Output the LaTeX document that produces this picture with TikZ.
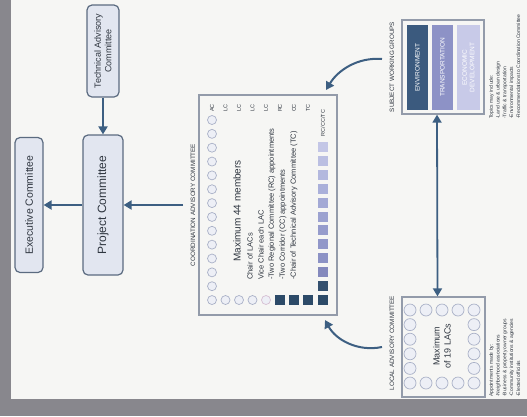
\documentclass[tikz,border=0pt]{standalone}
\usepackage{fontspec}
\setmainfont{Liberation Sans}
\usetikzlibrary{arrows.meta}
\definecolor{bgray}{HTML}{88878D}
\definecolor{paper}{HTML}{F6F6F4}
\definecolor{arrowc}{HTML}{3D5F82}
\definecolor{boxfill}{HTML}{E2E6F0}
\definecolor{boxline}{HTML}{5B6B80}
\definecolor{framec}{HTML}{939BAA}
\definecolor{ringc}{HTML}{AAB1C7}
\definecolor{ringfill}{HTML}{EDEFF6}
\definecolor{navy}{HTML}{2C4A68}
\definecolor{pinkish}{HTML}{D6BFD2}
\definecolor{bandA}{HTML}{3B5A7E}
\definecolor{bandB}{HTML}{8D92C6}
\definecolor{bandC}{HTML}{C8CAE8}
\definecolor{txt}{HTML}{2F3640}
\begin{document}
\begin{tikzpicture}[x=1pt,y=-1pt,
  cbox/.style={rounded corners=5pt, draw=boxline, line width=1.2pt, fill=boxfill, rotate=90, text=txt, align=center, inner sep=1pt},
  arr/.style={draw=arrowc, line width=2pt, -{Triangle[length=8pt,width=9pt]}},
  dblarr/.style={draw=arrowc, line width=1.8pt, {Triangle[length=8pt,width=9pt]}-{Triangle[length=8pt,width=9pt]}},
  rlabel/.style={rotate=90, text=txt, inner sep=0pt},
  mdot/.style={circle, draw=ringc, fill=ringfill, line width=0.7pt, minimum size=9pt, inner sep=0pt},
  bigdot/.style={mdot, minimum size=12pt},
  sq/.style={rectangle, minimum size=10pt, inner sep=0pt},
  band/.style={rectangle, rotate=90, minimum width=85pt, inner sep=0pt, text=white, font=\fontsize{6.5}{7.5}\selectfont, align=center},
  framebox/.style={draw=framec, line width=1.3pt, inner sep=0pt},
]
\useasboundingbox (0,0) rectangle (527,416);
\fill[bgray] (0,0) rectangle (527,416);
\fill[paper] (11,0) rectangle (527,399);

% committees
\node[cbox, minimum width=135pt, minimum height=28pt, font=\fontsize{10.5}{12}\selectfont] (ec) at (29,205) {Executive Committee};
\node[cbox, minimum width=140pt, minimum height=40pt, font=\fontsize{12}{14}\selectfont] (pc) at (103,205) {Project Committee};
\node[cbox, minimum width=92pt, minimum height=32pt, font=\fontsize{9}{10.5}\selectfont] (tac) at (103,51) {Technical Advisory\\Committee};

% coordination advisory committee
\node[framebox, minimum width=138pt, minimum height=220pt] (cac) at (268,205) {};
\node[rlabel, font=\fontsize{6.3}{7}\selectfont] (caclabel) at (193,205) {COORDINATION ADVISORY COMMITTEE};
\foreach \i in {0,...,13} \node[mdot] (lc\i) at (212,120+\i*13.85) {};
\foreach \i/\x in {1/225.5, 2/239, 3/252.5} \node[mdot] (bc\i) at (\x,300) {};
\node[mdot, draw=pinkish] (bc4) at (266,300) {};
\foreach \i/\x in {5/280, 6/294, 7/308} \node[sq, fill=navy] (bc\i) at (\x,300) {};
\foreach \c [count=\j from 0] in {C3C6E6, BBBFE2, B3B8DE, AAB0DA, A3A9D5, 9CA2D0, 969CCC, 9197C9, 8C92C5, 8489BD, 34506F, 2C4A68} {
  \definecolor{sqc}{HTML}{\c}
  \node[sq, fill=sqc] (rc\j) at (323,147+\j*13.9) {};
}
\foreach \x/\t [count=\k] in {212/AC, 225.5/LC, 239/LC, 252.5/LC, 266/LC, 280/RC, 294/CC, 308/TC}
  \node[rlabel, font=\fontsize{5.5}{6}\selectfont] (tl\k) at (\x,108) {\t};
\node[rlabel, font=\fontsize{5.5}{6}\selectfont] (tl9) at (323,123) {RC/CC/TC};
\node[rlabel, font=\fontsize{10}{12}\selectfont] (max44) at (237,211) {Maximum 44 members};
\foreach \x/\t [count=\k] in {250/Chair of LACs, 261/Vice Chair each LAC, 272/-Two Regional Committee (RC) appointments, 283/-Two Corridor (CC) appointments, 294/-Chair of Technical Advisory Committee (TC)}
  \node[rlabel, anchor=west, font=\fontsize{7.5}{9}\selectfont] (ln\k) at (\x,280) {\t};

% subject working groups
\node[framebox, minimum width=82pt, minimum height=94pt] (swg) at (443,67) {};
\node[band, fill=bandA, minimum height=21pt] (env) at (417.5,67.5) {ENVIRONMENT};
\node[band, fill=bandB, minimum height=21pt] (trans) at (442.5,67.5) {TRANSPORTATION};
\node[band, fill=bandC, minimum height=23pt] (econ) at (468.5,67.5) {ECONOMIC\\DEVELOPMENT};
\node[rlabel, font=\fontsize{6.3}{7}\selectfont] (swglabel) at (392,67) {SUBJECT WORKING GROUPS};
\node[rlabel, anchor=north west, align=left, font=\fontsize{5}{6.8}\selectfont] (swgnotes) at (489,119)
  {Topics may include:\\-Land use \& urban design\\-Traffic \& transportation\\-Environmental impacts\\-Recommendations to Coordination Committee};

% local advisory committee
\node[framebox, minimum width=83pt, minimum height=100pt] (lac) at (443.5,347) {};
\foreach \x [count=\k] in {410,426,442,458,474} {
  \node[bigdot] (lt\k) at (\x,310) {};
  \node[bigdot] (lb\k) at (\x,383) {};
}
\foreach \y [count=\k] in {324.6,339.2,353.8,368.4} {
  \node[bigdot] (ll\k) at (410,\y) {};
  \node[bigdot] (lr\k) at (474,\y) {};
}
\node[rlabel, align=center, font=\fontsize{9}{11}\selectfont] (lactext) at (442,346) {Maximum\\of 19 LACs};
\node[rlabel, font=\fontsize{6.3}{7}\selectfont] (laclabel) at (392,343) {LOCAL ADVISORY COMMITTEE};
\node[rlabel, anchor=north west, align=left, font=\fontsize{5}{6.8}\selectfont] (lacnotes) at (489,397)
  {Appointments made by:\\-Neighborhood associations\\-Business \& property owner groups\\-Community institutions \& agencies\\-Elected officials};

% connectors
\draw[arr] (tac) -- (pc);
\draw[arr] (pc) -- (ec);
\coordinate (cacin) at (183,205);
\draw[arr] (cacin) -- (pc);
\draw[dblarr] ([xshift=-6pt]swg.south) -- ([xshift=-6pt]lac.north);
\coordinate (swgcurve) at (382,59);
\coordinate (cactop) at (326,90);
\draw[arr] (swgcurve) .. controls (358,57) and (338,70) .. (cactop);
\coordinate (laccurve) at (382,347);
\coordinate (cacbot) at (325,320);
\draw[arr] (laccurve) .. controls (358,352) and (336,340) .. (cacbot);
\end{tikzpicture}
\end{document}
